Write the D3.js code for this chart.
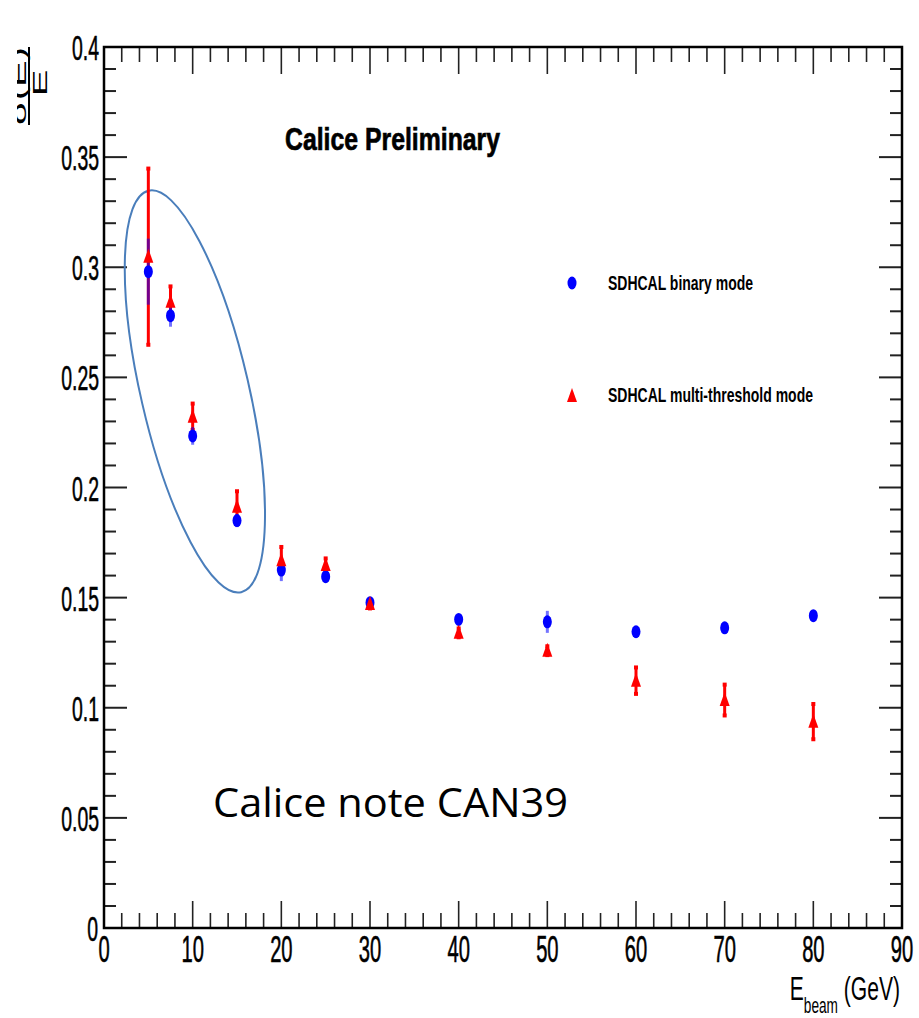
<!DOCTYPE html>
<html>
<head>
<meta charset="utf-8">
<script src="https://cdn.jsdelivr.net/npm/d3@7"></script>
<style>
  html, body { margin: 0; padding: 0; background: #fff; }
  svg { display: block; }
</style>
</head>
<body>
<script>
// ---------- data ----------
const energies   = [5, 7.5, 10, 15, 20, 25, 30, 40, 50, 60, 70, 80];
const binaryRes  = [0.298, 0.278, 0.2234, 0.185, 0.1625, 0.1595, 0.1477, 0.1401, 0.139, 0.1345, 0.1363, 0.1418];
const binaryErr  = [0.015, 0.005, 0.004, 0.003, 0.005, 0.002, 0.002, 0.002, 0.005, 0.002, 0.002, 0.002];
const multiRes   = [0.3048, 0.2843, 0.2321, 0.1913, 0.167, 0.1648, 0.1471, 0.134, 0.1259, 0.1123, 0.1035, 0.0937];
const multiErr   = [0.04, 0.007, 0.006, 0.007, 0.006, 0.003, 0.002, 0.002, 0.002, 0.006, 0.007, 0.008];
const xTickLabels = ["0","10","20","30","40","50","60","70","80","90"];
const yTickLabels = ["0","0.05","0.1","0.15","0.2","0.25","0.3","0.35","0.4"];
const seriesNames = ["SDHCAL binary mode", "SDHCAL multi-threshold mode"];
const titleText = "Calice Preliminary";
const noteText = "Calice note CAN39";

// ---------- layout ----------
const W = 919, H = 1018;
const svg = d3.select("body").append("svg").attr("width", W).attr("height", H);
svg.append("rect").attr("width", W).attr("height", H).attr("fill", "#fff");

const x = d3.scaleLinear().domain([0, 90]).range([104, 902]);
const y = d3.scaleLinear().domain([0, 0.4]).range([928, 47]);

const tickFont = "'Liberation Sans', Arial, Helvetica, sans-serif";

// ---------- ticks ----------
const g = svg.append("g");
const xMinor = d3.range(0, 90.001, 2);
const yMinor = d3.range(0, 0.4001, 0.01);

xMinor.forEach(v => {
  const major = Math.abs(v % 10) < 1e-6;
  const len = major ? 27 : 15;
  g.append("line").attr("x1", x(v)).attr("x2", x(v)).attr("y1", y(0)).attr("y2", y(0) - len)
    .attr("stroke", "#222").attr("stroke-width", 1.6);
  g.append("line").attr("x1", x(v)).attr("x2", x(v)).attr("y1", y(0.4)).attr("y2", y(0.4) + len)
    .attr("stroke", "#222").attr("stroke-width", 1.6);
});
yMinor.forEach(v => {
  const major = Math.abs(Math.round(v * 100) % 5) === 0;
  const len = major ? 23 : 12;
  g.append("line").attr("x1", x(0)).attr("x2", x(0) + len).attr("y1", y(v)).attr("y2", y(v))
    .attr("stroke", "#222").attr("stroke-width", 2);
  g.append("line").attr("x1", x(90)).attr("x2", x(90) - len).attr("y1", y(v)).attr("y2", y(v))
    .attr("stroke", "#222").attr("stroke-width", 2);
});

g.append("rect").attr("x", x(0)).attr("y", y(0.4)).attr("width", x(90) - x(0)).attr("height", y(0) - y(0.4))
  .attr("fill", "none").attr("stroke", "#000").attr("stroke-width", 2.5);

// ---------- tick labels ----------
xTickLabels.forEach(t => {
  const v = +t;
  svg.append("text")
    .attr("transform", `translate(${x(v)},962) scale(0.56,1)`)
    .attr("text-anchor", "middle")
    .attr("font-family", tickFont).attr("font-size", 36).attr("fill", "#000")
    .attr("stroke", "#000").attr("stroke-width", 0.6)
    .text(t);
});
yTickLabels.forEach(t => {
  const v = +t;
  svg.append("text")
    .attr("transform", `translate(${v === 0 ? 98 : 99},${y(v) + 13}) scale(0.54,1)`)
    .attr("text-anchor", "end")
    .attr("font-family", tickFont).attr("font-size", 36).attr("fill", "#000")
    .attr("stroke", "#000").attr("stroke-width", 0.6)
    .text(t);
});

// ---------- axis titles ----------
const xt = svg.append("text")
  .attr("transform", "translate(900,1000) scale(0.62,1)")
  .attr("text-anchor", "end")
  .attr("font-family", tickFont).attr("font-size", 34).attr("fill", "#000");
xt.append("tspan").text("E");
xt.append("tspan").attr("dy", 13).attr("font-size", 22).text("beam");
xt.append("tspan").attr("dy", -13).text(" (GeV)");

// y title: fraction sigma(E)/E rotated, clipped on the left
const defs = svg.append("defs");
defs.append("clipPath").attr("id", "yclip").append("rect").attr("x", 17).attr("y", 0).attr("width", 100).attr("height", 200);
const yt = svg.append("g").attr("clip-path", "url(#yclip)");
yt.append("text")
  .attr("transform", `translate(26,86) scale(0.5,1) rotate(-90)`)
  .attr("text-anchor", "middle")
  .attr("font-family", tickFont).attr("font-size", 40)
  .text("σ(E)");
yt.append("line").attr("x1", 29).attr("x2", 29).attr("y1", 47).attr("y2", 125).attr("stroke", "#000").attr("stroke-width", 2);
yt.append("text")
  .attr("transform", `translate(47,83) scale(0.5,1) rotate(-90)`)
  .attr("text-anchor", "middle")
  .attr("font-family", tickFont).attr("font-size", 40)
  .text("E");

// ---------- title & note ----------
svg.append("text").attr("x", 285).attr("y", 150)
  .attr("font-family", tickFont).attr("font-weight", "bold").attr("font-size", 32)
  .attr("stroke", "#000").attr("stroke-width", 0.7)
  .attr("textLength", 215).attr("lengthAdjust", "spacingAndGlyphs")
  .text(titleText);

svg.append("text").attr("x", 213).attr("y", 817)
  .attr("font-family", "'Open Sans', 'Noto Sans', sans-serif").attr("font-size", 40)
  .attr("textLength", 355).attr("lengthAdjust", "spacingAndGlyphs")
  .text(noteText);

// ---------- highlight ellipse ----------
svg.append("ellipse")
  .attr("transform", `translate(${x(10.25)},${y(0.2436)}) rotate(-13)`)
  .attr("rx", 54).attr("ry", 206)
  .attr("fill", "none").attr("stroke", "#4a7ebb").attr("stroke-width", 2);

// ---------- data marks ----------
const triPath = "M0,-8 L5,6 L-5,6 Z";
const data = energies.map((e, i) => ({ e, b: binaryRes[i], be: binaryErr[i], m: multiRes[i], me: multiErr[i] }));

const marks = svg.append("g");
marks.selectAll("line.rerr").data(data).enter().append("line")
  .attr("x1", d => x(d.e)).attr("x2", d => x(d.e))
  .attr("y1", d => y(d.m + d.me)).attr("y2", d => y(d.m - d.me))
  .attr("stroke", "#ff0000").attr("stroke-width", 3);
marks.selectAll("rect.rcap").data(data.flatMap(d => [d.m + d.me, d.m - d.me].map(v => ({ e: d.e, v })))).enter().append("rect")
  .attr("x", d => x(d.e) - 2).attr("y", d => y(d.v) - 2).attr("width", 4).attr("height", 4)
  .attr("fill", "#ff0000");
marks.selectAll("line.berr").data(data).enter().append("line")
  .attr("x1", d => x(d.e)).attr("x2", d => x(d.e))
  .attr("y1", d => y(d.b + d.be)).attr("y2", d => y(d.b - d.be))
  .attr("stroke", "#0000ff").attr("stroke-opacity", 0.55).attr("stroke-width", 3);
marks.selectAll("ellipse.bm").data(data).enter().append("ellipse")
  .attr("cx", d => x(d.e)).attr("cy", d => y(d.b))
  .attr("rx", 4.5).attr("ry", 6.5).attr("fill", "#0000ff");
marks.selectAll("path.rm").data(data).enter().append("path")
  .attr("transform", d => `translate(${x(d.e)},${y(d.m)})`)
  .attr("d", triPath).attr("fill", "#ff0000");

// ---------- legend ----------
const leg = svg.append("g");
leg.append("ellipse").attr("cx", 572).attr("cy", 283).attr("rx", 4.5).attr("ry", 6.5).attr("fill", "#0000ff");
leg.append("path").attr("transform", "translate(572,396)").attr("d", triPath).attr("fill", "#ff0000");
leg.append("text").attr("x", 608).attr("y", 290)
  .attr("font-family", tickFont).attr("font-weight", "bold").attr("font-size", 21)
  .attr("textLength", 145).attr("lengthAdjust", "spacingAndGlyphs").text(seriesNames[0]);
leg.append("text").attr("x", 608).attr("y", 402)
  .attr("font-family", tickFont).attr("font-weight", "bold").attr("font-size", 21)
  .attr("textLength", 205).attr("lengthAdjust", "spacingAndGlyphs").text(seriesNames[1]);
</script>
</body>
</html>
